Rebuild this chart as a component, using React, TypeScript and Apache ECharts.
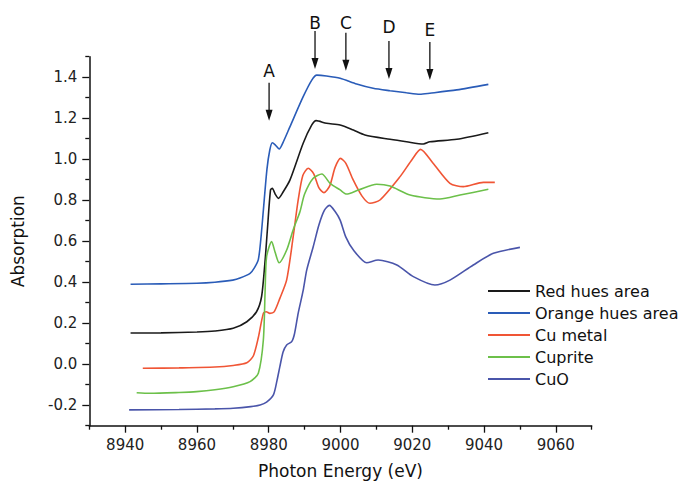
import React, { useEffect, useRef } from "react";
import * as echarts from "echarts";

const seriesNames = ["Red hues area", "Orange hues area", "Cu metal", "Cuprite", "CuO"];
const seriesColors = ["#1a1a1a", "#2a5cb8", "#f05535", "#6cc04a", "#4a55aa"];

const redHues = [
  [8941.5, 0.152], [8950, 0.153], [8960, 0.157], [8965, 0.162], [8970.1, 0.175], [8973.9, 0.207],
  [8976.6, 0.256], [8978, 0.329], [8979, 0.508], [8979.6, 0.65], [8980.5, 0.85], [8981, 0.858],
  [8981.8, 0.83], [8982.7, 0.809], [8984, 0.84], [8985.9, 0.898], [8989.6, 1.078], [8992, 1.167],
  [8993.2, 1.188], [8996.1, 1.175], [8999.9, 1.167], [9003.6, 1.142], [9006.8, 1.118], [9013.8, 1.097],
  [9018.4, 1.085], [9023.1, 1.074], [9024.9, 1.085], [9032.4, 1.097], [9041.2, 1.129],
];

const orangeHues = [
  [8941.5, 0.39], [8950, 0.392], [8960, 0.395], [8965, 0.4], [8970, 0.41], [8972, 0.42],
  [8974.8, 0.443], [8976, 0.47], [8977.1, 0.51], [8977.8, 0.61], [8978.5, 0.75], [8979.5, 0.95],
  [8980.3, 1.045], [8981, 1.08], [8981.8, 1.07], [8982.9, 1.05], [8984.2, 1.09], [8985.9, 1.158],
  [8989.6, 1.305], [8992, 1.386], [8993.4, 1.41], [8996.1, 1.406], [8999.9, 1.395], [9004.5, 1.367],
  [9009.1, 1.346], [9013.8, 1.334], [9018.4, 1.324], [9022.1, 1.317], [9024.9, 1.322], [9032.4, 1.338],
  [9041.2, 1.365],
];

const cuMetal = [
  [8944.9, -0.02], [8955, -0.018], [8965, -0.014], [8970.1, -0.006], [8973.9, 0.007], [8975.7, 0.04],
  [8977.1, 0.13], [8978.5, 0.248], [8979.3, 0.256], [8980.3, 0.248], [8981.5, 0.255], [8983.1, 0.321],
  [8985, 0.411], [8986.8, 0.62], [8988.2, 0.8], [8989.5, 0.92], [8991, 0.956], [8992.5, 0.93],
  [8994, 0.86], [8995.4, 0.837], [8997, 0.87], [8998.5, 0.96], [9000, 1.004], [9001.5, 0.98],
  [9003.5, 0.9], [9006, 0.82], [9008.2, 0.785], [9011, 0.801], [9016.6, 0.915], [9020, 1.0],
  [9022.3, 1.048], [9025.8, 0.98], [9030.5, 0.882], [9034.2, 0.866], [9039.8, 0.887], [9043, 0.887],
];

const cuprite = [
  [8943.2, -0.139], [8946.9, -0.142], [8955, -0.138], [8959.9, -0.134], [8965, -0.125], [8970.1, -0.11],
  [8974.8, -0.085], [8977.1, -0.044], [8978.5, 0.118], [8979, 0.362], [8979.4, 0.524], [8980.8, 0.598],
  [8981.8, 0.545], [8982.9, 0.495], [8985, 0.557], [8986.8, 0.655], [8988.7, 0.744], [8990, 0.83],
  [8992.4, 0.907], [8994.8, 0.928], [8997.1, 0.882], [8999.9, 0.85], [9001.7, 0.83], [9005, 0.85],
  [9010.1, 0.878], [9013.8, 0.869], [9019.4, 0.825], [9027.7, 0.806], [9033.3, 0.825], [9041.2, 0.853],
];

const cuO = [
  [8941.1, -0.223], [8955, -0.221], [8965, -0.218], [8970.1, -0.215], [8975, -0.207], [8977.6, -0.199],
  [8979.4, -0.185], [8981.3, -0.15], [8982.3, -0.08], [8983.1, -0.012], [8984, 0.06], [8985, 0.094],
  [8986.4, 0.11], [8987.2, 0.15], [8988.2, 0.248], [8989.6, 0.36], [8990.6, 0.46], [8992.4, 0.573],
  [8994, 0.68], [8995.5, 0.75], [8996.9, 0.775], [8998.5, 0.745], [8999.9, 0.703], [9001.5, 0.62],
  [9003.6, 0.557], [9007.3, 0.495], [9010.5, 0.508], [9015.7, 0.484], [9020.3, 0.427], [9026.3, 0.386],
  [9030.5, 0.41], [9037, 0.484], [9042.6, 0.541], [9050, 0.57],
];

const xMajorTicks = [8940, 8960, 8980, 9000, 9020, 9040, 9060];
const xMinorTicks = [8930, 8950, 8970, 8990, 9010, 9030, 9050, 9070];
const yMajorTicks = [-0.2, 0.0, 0.2, 0.4, 0.6, 0.8, 1.0, 1.2, 1.4];
const yMinorTicks = [-0.3, -0.1, 0.1, 0.3, 0.5, 0.7, 0.9, 1.1, 1.3, 1.5];

const annotLabels = ["A", "B", "C", "D", "E"];
const annotX = [8980.1, 8992.9, 9001.5, 9013.5, 9024.9];
const annotTipY = [1.188, 1.44, 1.432, 1.391, 1.386];
const annotLabelGap = [12, 8, 10, 14, 12];

const FONT = "DejaVu Sans";

export default function App() {
  const ref = useRef<HTMLDivElement>(null);
  useEffect(() => {
    document.body.style.margin = "0";
    const chart = echarts.init(ref.current!, null, { renderer: "svg" });
    const allData = [redHues, orangeHues, cuMetal, cuprite, cuO];
    const axisCommon = {
      type: "value",
      splitLine: { show: false },
    };
    chart.setOption({
      animation: false,
      backgroundColor: "#ffffff",
      grid: {
        left: 89.3,
        right: 88.3,
        top: 56.7,
        bottom: 55.3,
        containLabel: false,
        outerBoundsMode: "none",
      },
      legend: {
        orient: "vertical",
        left: 483,
        top: 275,
        itemWidth: 42,
        itemHeight: 2,
        itemGap: 0,
        icon: "rect",
        textStyle: { fontFamily: FONT, fontSize: 16, color: "#111", lineHeight: 22 },
        data: seriesNames,
      },
      xAxis: [
        {
          ...axisCommon,
          min: 8930,
          max: 9070,
          name: "Photon Energy (eV)",
          nameLocation: "middle",
          nameGap: 37,
          nameTextStyle: { fontFamily: FONT, fontSize: 17, color: "#111" },
          axisLine: { show: true, onZero: false, lineStyle: { color: "#111", width: 1.5 } },
          axisTick: { show: true, customValues: xMajorTicks, length: 7, lineStyle: { color: "#111", width: 1.3 } },
          axisLabel: {
            customValues: xMajorTicks,
            margin: 12,
            fontFamily: FONT,
            fontSize: 15,
            color: "#222",
            formatter: (v: number) => String(v),
          },
        },
        {
          ...axisCommon,
          min: 8930,
          max: 9070,
          position: "bottom",
          axisLine: { show: false, onZero: false },
          axisTick: { show: true, customValues: xMinorTicks, length: 4, lineStyle: { color: "#111", width: 1.3 } },
          axisLabel: { show: false },
        },
      ],
      yAxis: [
        {
          ...axisCommon,
          min: -0.3,
          max: 1.5,
          name: "Absorption",
          nameLocation: "middle",
          nameGap: 63,
          nameTextStyle: { fontFamily: FONT, fontSize: 17, color: "#111" },
          axisLine: { show: true, onZero: false, lineStyle: { color: "#111", width: 1.5 } },
          axisTick: { show: true, customValues: yMajorTicks, length: 7, lineStyle: { color: "#111", width: 1.3 } },
          axisLabel: {
            customValues: yMajorTicks,
            margin: 12,
            fontFamily: FONT,
            fontSize: 15,
            color: "#222",
            formatter: (v: number) => v.toFixed(1),
          },
        },
        {
          ...axisCommon,
          min: -0.3,
          max: 1.5,
          position: "left",
          axisLine: { show: false, onZero: false },
          axisTick: { show: true, customValues: yMinorTicks, length: 4, lineStyle: { color: "#111", width: 1.3 } },
          axisLabel: { show: false },
        },
      ],
      series: seriesNames.map((name, i) => ({
        name,
        type: "line",
        xAxisIndex: 0,
        yAxisIndex: 0,
        data: allData[i],
        showSymbol: false,
        symbol: "none",
        smooth: 0.25,
        lineStyle: { color: seriesColors[i], width: 1.6 },
        itemStyle: { color: seriesColors[i] },
      })),
    });

    const graphics: any[] = [];
    annotLabels.forEach((lab, i) => {
      const p = chart.convertToPixel({ gridIndex: 0 }, [annotX[i], annotTipY[i]]) as number[];
      const x = p[0];
      const tip = p[1];
      const tail = tip - 38;
      graphics.push({
        type: "line",
        shape: { x1: x, y1: tail, x2: x, y2: tip - 8 },
        style: { stroke: "#111", lineWidth: 1.3 },
      });
      graphics.push({
        type: "polygon",
        shape: { points: [[x - 3.5, tip - 11], [x + 3.5, tip - 11], [x, tip]] },
        style: { fill: "#111" },
      });
      graphics.push({
        type: "text",
        x,
        y: tail - annotLabelGap[i],
        style: {
          text: lab,
          font: `17px "${FONT}"`,
          fill: "#111",
          align: "center",
          verticalAlign: "middle",
        },
      });
    });
    chart.setOption({ graphic: graphics });

    return () => chart.dispose();
  }, []);
  return <div ref={ref} style={{ position: "absolute", left: 0, top: 0, width: 680, height: 481 }} />;
}
